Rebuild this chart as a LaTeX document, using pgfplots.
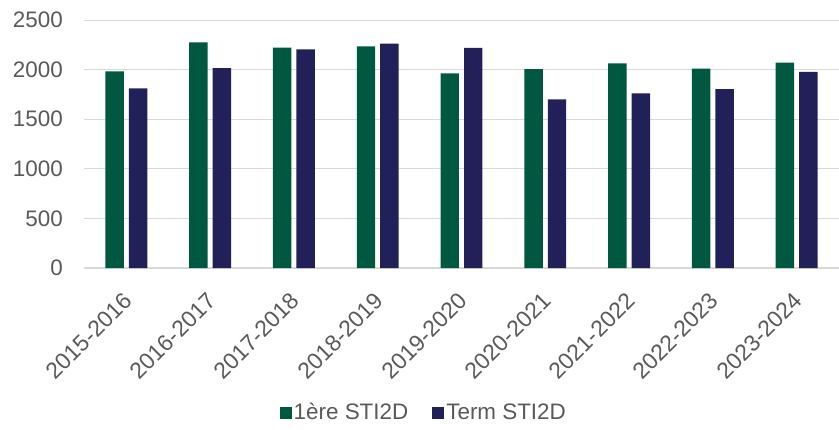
\documentclass[border=0pt]{standalone}
\usepackage{pgfplots}
\pgfplotsset{compat=1.18}
\usepackage{fontspec}
\setmainfont{Liberation Sans}
\definecolor{cgreen}{RGB}{0,88,64}
\definecolor{cnavy}{RGB}{34,32,89}
\definecolor{ctext}{RGB}{89,89,89}
\definecolor{cgrid}{RGB}{217,217,217}
\begin{document}
\fontsize{22.5}{27}\selectfont
\begin{tikzpicture}
\begin{axis}[
  at={(0,0)}, anchor=south west,
  scale only axis, width=754bp, height=248bp,
  xmin=-0.5, xmax=8.5, ymin=0, ymax=2500,
  ytick={0,500,1000,1500,2000,2500},
  xtick={0,...,8},
  xticklabels={2015-2016,2016-2017,2017-2018,2018-2019,2019-2020,2020-2021,2021-2022,2022-2023,2023-2024},
  xticklabel style={rotate=45, anchor=north east, xshift=-12bp, yshift=-6bp, text=ctext,
    font=\fontsize{23}{27}\selectfont},
  yticklabel style={text=ctext, xshift=-14bp},
  /pgf/number format/assume math mode=true,
  /pgf/number format/1000 sep={},
  tick style={draw=none},
  ymajorgrids, grid style={cgrid, line width=1bp},
  axis lines*=left,
  y axis line style={draw=none},
  x axis line style={draw=cgrid, line width=1.2bp, -},
  every axis plot/.append style={ybar, bar width=0.22, draw=none},
  legend style={at={(0.45,-0.585)}, anchor=center, draw=none, legend columns=2,
    text=ctext, /tikz/every even column/.append style={column sep=22bp},
    font=\fontsize{22.5}{27}\selectfont},
  legend image code/.code={\fill[#1] (0bp,-6bp) rectangle (12bp,6bp);},
  clip=false,
]
\addplot[fill=cgreen, bar shift=-0.14] coordinates {(0,1983) (1,2275) (2,2221) (3,2235) (4,1963) (5,2006) (6,2063) (7,2009) (8,2070)};
\addplot[fill=cnavy, bar shift=0.14] coordinates {(0,1811) (1,2015) (2,2204) (3,2261) (4,2218) (5,1700) (6,1761) (7,1804) (8,1976)};
\legend{1ère STI2D, Term STI2D}
\end{axis}
\pgfresetboundingbox
\path[use as bounding box] (-84.5bp,-162bp) rectangle (754.5bp,268bp);
\end{tikzpicture}
\end{document}
